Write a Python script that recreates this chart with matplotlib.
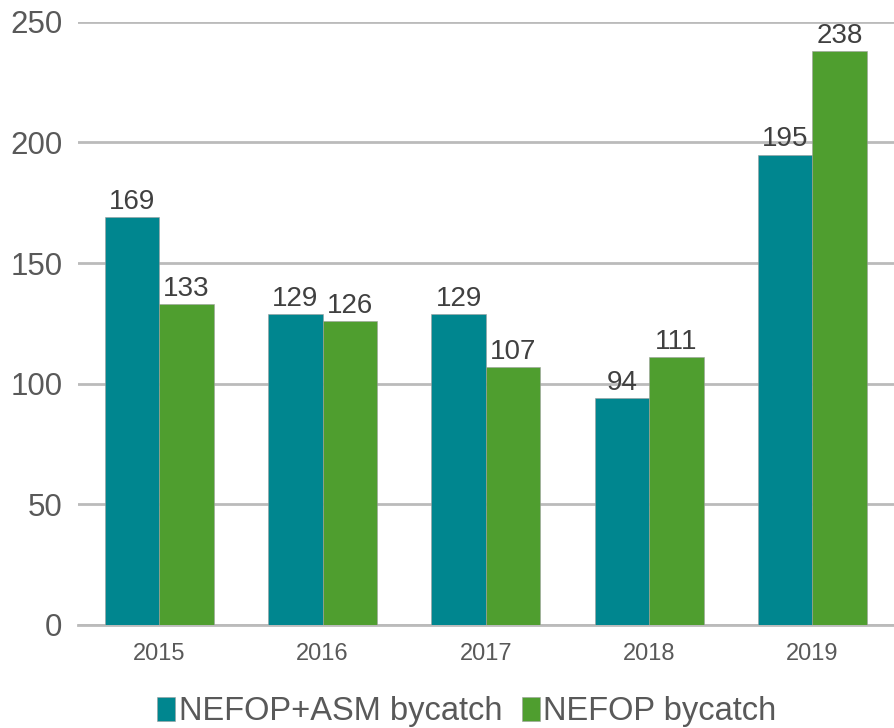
import matplotlib.pyplot as plt
import numpy as np

plt.rcParams['font.family'] = ['Liberation Sans', 'DejaVu Sans']

years = ['2015', '2016', '2017', '2018', '2019']
asm_bycatch = [169, 129, 129, 94, 195]
nefop_bycatch = [133, 126, 107, 111, 238]
series_names = ['NEFOP+ASM bycatch', 'NEFOP bycatch']

teal = '#00868F'
green = '#4F9E2F'
grid_gray = '#BBBBBB'
text_gray = '#595959'

fig = plt.figure(figsize=(8.94, 7.28), dpi=100)
ax = fig.add_axes([0.087, 0.1415, 0.913, 0.8285])

x = np.arange(len(years))
w = 1 / 3
b1 = ax.bar(x - w / 2, asm_bycatch, w, color=teal, edgecolor='#9E9E9E', linewidth=0.4,
            label=series_names[0], zorder=3)
b2 = ax.bar(x + w / 2, nefop_bycatch, w, color=green, edgecolor='#9E9E9E', linewidth=0.4,
            label=series_names[1], zorder=3)

# value labels above each bar
for bars, vals in [(b1, asm_bycatch), (b2, nefop_bycatch)]:
    for rect, v in zip(bars, vals):
        ax.annotate(str(v), (rect.get_x() + rect.get_width() / 2, v),
                    xytext=(0, 1.5), textcoords='offset points',
                    ha='center', va='bottom', fontsize=20, color='#404040', zorder=4)

ax.set_xlim(-0.5, len(years) - 0.5)
ax.set_ylim(0, 250)
ax.set_yticks(range(0, 251, 50))
ax.set_xticks(x)
ax.set_xticklabels(years)
ax.yaxis.grid(True, color=grid_gray, linewidth=2, zorder=0)
ax.set_axisbelow(True)
for s in ['top', 'right', 'left']:
    ax.spines[s].set_visible(False)
ax.spines['bottom'].set_color(grid_gray)
ax.spines['bottom'].set_linewidth(2)
ax.tick_params(axis='y', length=0, pad=11, labelsize=22.5, labelcolor=text_gray)
ax.tick_params(axis='x', length=0, pad=13, labelsize=17, labelcolor=text_gray)

fig.legend(handles=[b1, b2], loc='center', bbox_to_anchor=(0.522, 0.022), ncol=2,
           frameon=False, fontsize=23.5, handlelength=0.55, handleheight=0.75,
           handletextpad=0.1, columnspacing=0.6, labelcolor=text_gray)

plt.savefig('out.png', dpi=100)
